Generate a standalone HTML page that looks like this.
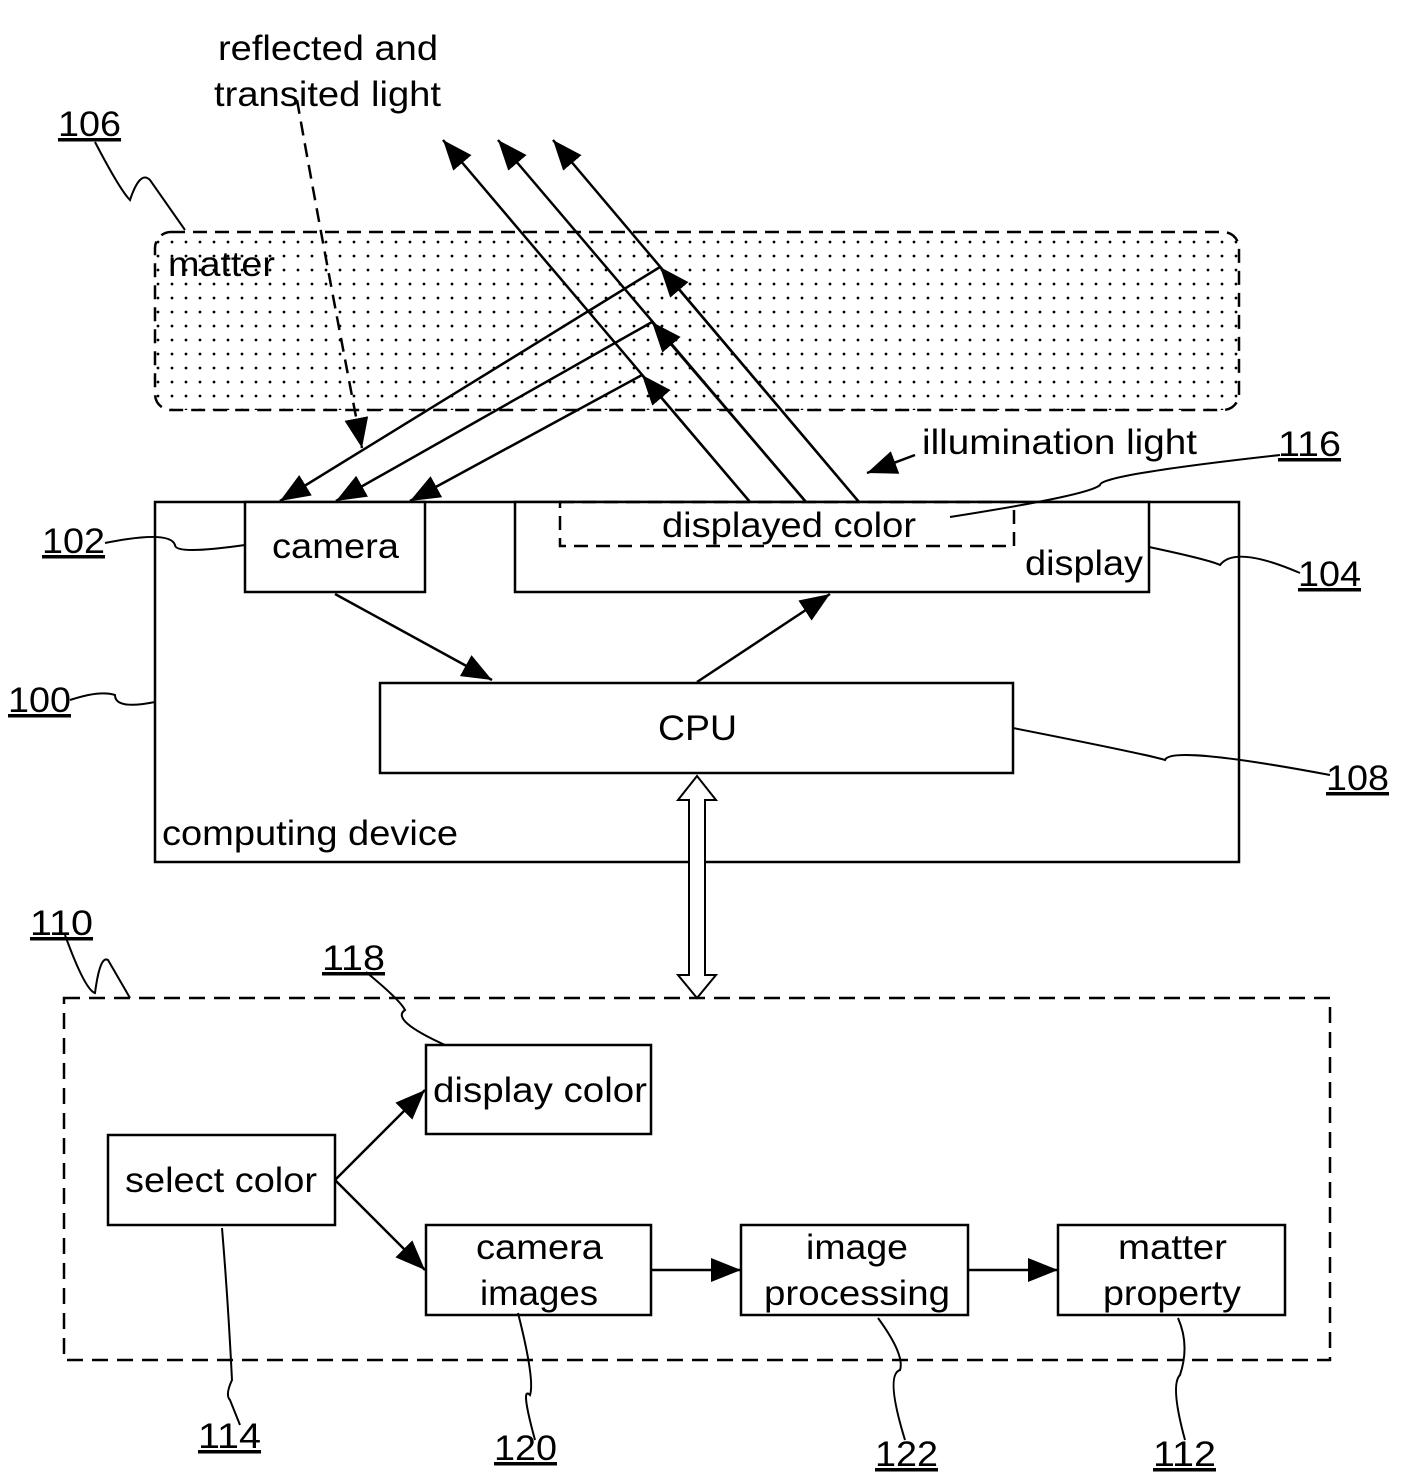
<!DOCTYPE html>
<html><head><meta charset="utf-8"><style>
html,body{margin:0;padding:0;background:#fff}
svg{display:block}
text{font-family:"Liberation Sans",sans-serif;font-size:35px;fill:#000}
.n{text-decoration:underline}
</style></head><body>
<svg width="1428" height="1477" viewBox="0 0 1428 1477" xmlns="http://www.w3.org/2000/svg">
<defs>
<pattern id="dots" width="14" height="14" patternUnits="userSpaceOnUse"><circle cx="4" cy="4" r="1.4" fill="#000"/></pattern>
<marker id="big" viewBox="0 0 30 24" refX="30" refY="12" markerWidth="30" markerHeight="24" orient="auto" markerUnits="userSpaceOnUse"><path d="M0,0 L30,12 L0,24 z" fill="#000"/></marker>
</defs>
<g stroke="#000" stroke-width="2.5" fill="none">
<rect x="155" y="232" width="1084" height="178" rx="16" fill="url(#dots)" stroke-dasharray="14,8"/>
<rect x="155" y="502" width="1084" height="360" fill="none"/>
<rect x="245" y="502" width="180" height="90" fill="#fff"/>
<rect x="515" y="502" width="634" height="90" fill="#fff"/>
<rect x="560" y="502" width="454" height="44" stroke-dasharray="14,8"/>
<rect x="380" y="683" width="633" height="90" fill="#fff"/>
<!-- illumination lines -->
<line x1="750" y1="502" x2="443" y2="140" marker-end="url(#big)"/>
<line x1="806" y1="502" x2="498" y2="140" marker-end="url(#big)"/>
<line x1="859" y1="502" x2="553" y2="140" marker-end="url(#big)"/>
<line x1="750" y1="502" x2="642" y2="375" marker-end="url(#big)"/>
<line x1="806" y1="502" x2="652" y2="322" marker-end="url(#big)"/>
<line x1="859" y1="502" x2="660" y2="267" marker-end="url(#big)"/>
<!-- reflected -->
<line x1="642" y1="375" x2="410" y2="501" marker-end="url(#big)"/>
<line x1="652" y1="322" x2="336" y2="501" marker-end="url(#big)"/>
<line x1="660" y1="267" x2="280" y2="501" marker-end="url(#big)"/>
<path d="M297,100 Q320,230 362,448" stroke-dasharray="14,8" marker-end="url(#big)"/>
<line x1="915" y1="455" x2="867" y2="473" marker-end="url(#big)"/>
<line x1="335" y1="594" x2="492" y2="680" marker-end="url(#big)"/>
<line x1="697" y1="682" x2="830" y2="594" marker-end="url(#big)"/>
<path d="M697,776 L716,800 L705,800 L705,975 L716,975 L697,998 L678,975 L689,975 L689,800 L678,800 Z" stroke-width="2" fill="#fff"/>
<rect x="64" y="998" width="1266" height="362" stroke-dasharray="16,9"/>
<rect x="108" y="1135" width="227" height="90" fill="#fff"/>
<rect x="426" y="1045" width="225" height="89" fill="#fff"/>
<rect x="426" y="1225" width="225" height="90" fill="#fff"/>
<rect x="741" y="1225" width="227" height="90" fill="#fff"/>
<rect x="1058" y="1225" width="227" height="90" fill="#fff"/>
<line x1="335" y1="1180" x2="425" y2="1090" marker-end="url(#big)"/>
<line x1="335" y1="1180" x2="425" y2="1270" marker-end="url(#big)"/>
<line x1="651" y1="1270" x2="741" y2="1270" marker-end="url(#big)"/>
<line x1="968" y1="1270" x2="1058" y2="1270" marker-end="url(#big)"/>
<!-- leaders -->
<path d="M95,142 Q120,190 130,200 Q140,170 150,180 L185,230" stroke-width="2"/>
<path d="M105,543 Q170,530 175,545 Q175,555 245,545" stroke-width="2"/>
<path d="M1149,547 Q1210,560 1220,565 Q1235,545 1300,573" stroke-width="2"/>
<path d="M950,517 Q1090,495 1100,485 Q1100,475 1280,455" stroke-width="2"/>
<path d="M70,700 Q100,690 115,695 Q115,710 155,702" stroke-width="2"/>
<path d="M1013,728 Q1150,755 1165,760 Q1170,745 1330,775" stroke-width="2"/>
<path d="M65,935 Q85,990 95,993 Q100,955 108,960 L130,998" stroke-width="2"/>
<path d="M366,972 Q400,1000 405,1010 Q390,1020 445,1045" stroke-width="2"/>
<path d="M222,1228 Q228,1300 232,1380 Q225,1395 230,1400 L240,1425" stroke-width="2"/>
<path d="M518,1313 Q535,1380 530,1395 Q520,1385 535,1440" stroke-width="2"/>
<path d="M878,1318 Q905,1355 900,1370 Q885,1375 905,1440" stroke-width="2"/>
<path d="M1178,1318 Q1190,1345 1180,1375 Q1170,1385 1185,1440" stroke-width="2"/>
</g>
<g lengthAdjust="spacingAndGlyphs">
<text x="218" y="60" textLength="220" lengthAdjust="spacingAndGlyphs">reflected and</text>
<text x="214" y="106" textLength="227" lengthAdjust="spacingAndGlyphs">transited light</text>
<text x="168" y="276" textLength="107" lengthAdjust="spacingAndGlyphs">matter</text>
<text x="922" y="454" textLength="275" lengthAdjust="spacingAndGlyphs">illumination light</text>
<text x="662" y="537" textLength="254" lengthAdjust="spacingAndGlyphs">displayed color</text>
<text x="1025" y="575" textLength="118" lengthAdjust="spacingAndGlyphs">display</text>
<text x="272" y="558" textLength="127" lengthAdjust="spacingAndGlyphs">camera</text>
<text x="658" y="740" textLength="79" lengthAdjust="spacingAndGlyphs">CPU</text>
<text x="162" y="845" textLength="296" lengthAdjust="spacingAndGlyphs">computing device</text>
<text x="433" y="1102" textLength="214" lengthAdjust="spacingAndGlyphs">display color</text>
<text x="125" y="1192" textLength="192" lengthAdjust="spacingAndGlyphs">select color</text>
<text x="476" y="1259" textLength="127" lengthAdjust="spacingAndGlyphs">camera</text>
<text x="480" y="1305" textLength="118" lengthAdjust="spacingAndGlyphs">images</text>
<text x="806" y="1259" textLength="102" lengthAdjust="spacingAndGlyphs">image</text>
<text x="764" y="1305" textLength="186" lengthAdjust="spacingAndGlyphs">processing</text>
<text x="1118" y="1259" textLength="109" lengthAdjust="spacingAndGlyphs">matter</text>
<text x="1103" y="1305" textLength="138" lengthAdjust="spacingAndGlyphs">property</text>
<text class="n" x="58" y="136" textLength="63" lengthAdjust="spacingAndGlyphs">106</text>
<text class="n" x="42" y="553" textLength="63" lengthAdjust="spacingAndGlyphs">102</text>
<text class="n" x="1298" y="586" textLength="63" lengthAdjust="spacingAndGlyphs">104</text>
<text class="n" x="1278" y="456" textLength="63" lengthAdjust="spacingAndGlyphs">116</text>
<text class="n" x="8" y="712" textLength="63" lengthAdjust="spacingAndGlyphs">100</text>
<text class="n" x="1326" y="790" textLength="63" lengthAdjust="spacingAndGlyphs">108</text>
<text class="n" x="30" y="935" textLength="63" lengthAdjust="spacingAndGlyphs">110</text>
<text class="n" x="322" y="970" textLength="63" lengthAdjust="spacingAndGlyphs">118</text>
<text class="n" x="198" y="1448" textLength="63" lengthAdjust="spacingAndGlyphs">114</text>
<text class="n" x="494" y="1460" textLength="63" lengthAdjust="spacingAndGlyphs">120</text>
<text class="n" x="875" y="1466" textLength="63" lengthAdjust="spacingAndGlyphs">122</text>
<text class="n" x="1153" y="1466" textLength="63" lengthAdjust="spacingAndGlyphs">112</text>
</g>
</svg>
</body></html>
